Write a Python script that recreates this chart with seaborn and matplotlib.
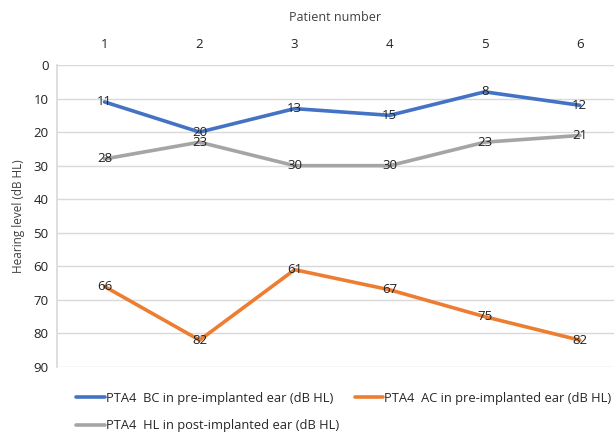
import matplotlib
matplotlib.use("Agg")
import matplotlib.pyplot as plt
import seaborn as sns
import pandas as pd

patients = [1, 2, 3, 4, 5, 6]
bc_pre = [11, 20, 13, 15, 8, 12]
ac_pre = [66, 82, 61, 67, 75, 82]
hl_post = [28, 23, 30, 30, 23, 21]

series_names = [
    "PTA4  BC in pre-implanted ear (dB HL)",
    "PTA4  AC in pre-implanted ear (dB HL)",
    "PTA4  HL in post-implanted ear (dB HL)",
]
colors = ["#4472C4", "#ED7D31", "#A5A5A5"]

rows = []
for name, vals in zip(series_names, [bc_pre, ac_pre, hl_post]):
    for p, v in zip(patients, vals):
        rows.append({"Patient": p, "Level": v, "Series": name})
df = pd.DataFrame(rows)

sns.set_theme(style="white")
plt.rcParams["font.family"] = ["Open Sans", "DejaVu Sans"]

fig = plt.figure(figsize=(6.14, 4.36), dpi=100)
ax = fig.add_axes([57 / 614, 1 - 367 / 436, 557 / 614, (367 - 65) / 436])

sns.lineplot(data=df, x="Patient", y="Level", hue="Series", palette=colors,
             linewidth=2.6, ax=ax, legend=False, sort=False)

for name, vals in zip(series_names, [bc_pre, ac_pre, hl_post]):
    for p, v in zip(patients, vals):
        ax.text(p, v, str(v), ha="center", va="center", fontsize=9.5, color="#222222")

ax.set_ylim(90, 0)
ax.set_yticks(range(0, 91, 10))
ax.set_xlim(0.5, 6.36)
ax.set_xticks(patients)
ax.xaxis.tick_top()
ax.xaxis.set_label_position("top")
ax.set_xlabel("Patient number", fontsize=9, labelpad=12, color="#404040")
ax.set_ylabel("Hearing level (dB HL)", fontsize=8.5, labelpad=6, color="#404040")
ax.tick_params(axis="y", labelsize=9.5, colors="#222222", length=0, pad=6)
ax.tick_params(axis="x", labelsize=9.5, colors="#222222", length=0, pad=10)
ax.yaxis.grid(True, color="#D9D9D9", linewidth=1)
ax.set_axisbelow(True)
for s in ["top", "right", "bottom"]:
    ax.spines[s].set_visible(False)
ax.spines["left"].set_color("#D9D9D9")

handles = [plt.Line2D([0], [0], color=c, linewidth=2.6) for c in colors]
order = [0, 2, 1]
fig.legend([handles[i] for i in order], [series_names[i] for i in order],
           loc="lower left", bbox_to_anchor=(0.105, -0.018),
           ncol=2, frameon=False, fontsize=9.3, handlelength=2.2, handletextpad=0.1,
           columnspacing=1.2, labelspacing=1.1)

fig.savefig("out.png", dpi=100)
